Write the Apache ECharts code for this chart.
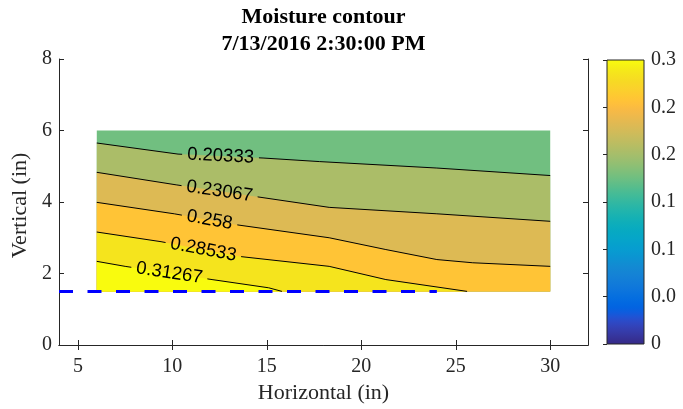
<!DOCTYPE html>
<html>
<head>
<meta charset="utf-8">
<title>Moisture contour</title>
<script src="https://cdn.jsdelivr.net/npm/echarts@6/dist/echarts.min.js"></script>
<style>
  html, body { margin: 0; padding: 0; background: #fff; }
  #chart { width: 683px; height: 409px; }
</style>
</head>
<body>
<div id="chart"></div>
<script>
// contour levels, the first one colours the band above the first line
var levels = [0.176, 0.20333, 0.23067, 0.258, 0.28533, 0.31267];
var contourLabels = ['0.20333', '0.23067', '0.258', '0.28533', '0.31267'];

// contour lines, [horizontal, vertical] in inches
var line1 = [[6, 5.65], [10.3, 5.34], [14.8, 5.23], [17.8, 5.13], [24, 4.95], [30, 4.74]];
var line2 = [[6, 4.83], [10.2, 4.48], [14.3, 4.16], [18.3, 3.85], [24, 3.67], [30, 3.46]];
var line3 = [[6, 3.99], [10.1, 3.67], [13.3, 3.37], [18.3, 3.0], [21.3, 2.67], [24, 2.39], [25.9, 2.3], [30, 2.2]];
var line4 = [[6, 3.16], [9.4, 2.89], [13.5, 2.48], [18.3, 2.2], [21.3, 1.83], [25.6, 1.5]];
var line5 = [[6, 2.34], [7.5, 2.2], [12.1, 1.83], [15.1, 1.6], [15.8, 1.5]];
var contours = [line1, line2, line3, line4, line5];
// where the inline labels sit (horizontal position)
var labelX = [12.55, 12.5, 11.97, 11.64, 9.84];

// measured area and the blue boundary line
var domainX = [6, 30];
var domainY = [1.5, 6];
var boundary = [[4, 1.5], [24, 1.5]];

var xTicks = [5, 10, 15, 20, 25, 30];
var cbTickLabels = ['0', '0.0', '0.1', '0.1', '0.2', '0.2', '0.3'];

// parula, 64 steps
var parula = [[0.208,0.166,0.529],[0.212,0.190,0.578],[0.212,0.214,0.627],[0.208,0.239,0.677],[0.196,0.264,0.728],[0.171,0.292,0.779],[0.125,0.324,0.830],[0.059,0.360,0.868],[0.012,0.388,0.882],[0.006,0.409,0.883],[0.017,0.427,0.879],[0.033,0.443,0.872],[0.050,0.459,0.864],[0.063,0.474,0.855],[0.072,0.489,0.847],[0.078,0.504,0.838],[0.079,0.520,0.831],[0.075,0.538,0.826],[0.064,0.557,0.824],[0.049,0.577,0.823],[0.034,0.597,0.820],[0.027,0.614,0.814],[0.024,0.629,0.804],[0.023,0.642,0.791],[0.023,0.653,0.777],[0.027,0.664,0.761],[0.038,0.674,0.744],[0.059,0.684,0.725],[0.084,0.693,0.706],[0.113,0.702,0.686],[0.145,0.710,0.665],[0.180,0.718,0.642],[0.218,0.725,0.619],[0.259,0.732,0.595],[0.302,0.738,0.571],[0.348,0.742,0.547],[0.395,0.746,0.524],[0.442,0.748,0.503],[0.487,0.749,0.484],[0.530,0.749,0.466],[0.571,0.749,0.449],[0.610,0.747,0.434],[0.647,0.746,0.419],[0.683,0.743,0.404],[0.718,0.741,0.390],[0.752,0.738,0.377],[0.786,0.736,0.363],[0.819,0.733,0.350],[0.851,0.730,0.336],[0.882,0.727,0.322],[0.914,0.726,0.306],[0.945,0.726,0.289],[0.974,0.731,0.267],[0.994,0.745,0.240],[0.999,0.765,0.216],[0.996,0.786,0.197],[0.988,0.807,0.179],[0.979,0.827,0.163],[0.970,0.848,0.147],[0.963,0.871,0.131],[0.959,0.895,0.113],[0.960,0.922,0.095],[0.966,0.951,0.076],[0.976,0.983,0.054]];
var parulaCss = parula.map(function (c) {
  return 'rgb(' + Math.round(c[0] * 255) + ',' + Math.round(c[1] * 255) + ',' + Math.round(c[2] * 255) + ')';
});

var axisColor = '#262626';
var serif = '"Liberation Serif", "Times New Roman", serif';
var labelFont = '18.5px "Liberation Sans", Arial, sans-serif';

var measureCtx = document.createElement('canvas').getContext('2d');
measureCtx.font = labelFont;

function interpY(line, x) {
  for (var k = 0; k < line.length - 1; k++) {
    if (x >= line[k][0] && x <= line[k + 1][0]) {
      var t = (x - line[k][0]) / (line[k + 1][0] - line[k][0]);
      return { y: line[k][1] + t * (line[k + 1][1] - line[k][1]), k: k };
    }
  }
  return { y: line[0][1], k: 0 };
}

// keep the part of a pixel polyline between x0 and x1
function clipX(pts, x0, x1) {
  var out = [];
  for (var k = 0; k < pts.length; k++) {
    var p = pts[k];
    if (k > 0) {
      var q = pts[k - 1];
      [x0, x1].forEach(function (xb) {
        if ((q[0] - xb) * (p[0] - xb) < 0) {
          var t = (xb - q[0]) / (p[0] - q[0]);
          out.push([xb, q[1] + t * (p[1] - q[1])]);
        }
      });
    }
    if (p[0] >= x0 && p[0] <= x1) out.push(p);
  }
  return out;
}

function renderBand(params, api) {
  var i = api.value(1);
  var pts;
  if (i === 0) {
    pts = [[domainX[0], domainY[1]], [domainX[1], domainY[1]], [domainX[1], domainY[0]], [domainX[0], domainY[0]]];
  } else {
    var line = contours[i - 1];
    var last = line[line.length - 1];
    pts = line.concat([[last[0], domainY[0]], [domainX[0], domainY[0]]]);
  }
  return {
    type: 'polygon',
    shape: { points: pts.map(function (p) { return api.coord(p); }) },
    style: { fill: api.visual('color') }
  };
}

function renderContour(params, api) {
  var i = api.value(0);
  var line = contours[i];
  var pts = line.map(function (p) { return api.coord(p); });
  var hit = interpY(line, labelX[i]);
  var cp = api.coord([labelX[i], hit.y]);
  var a = pts[hit.k], b = pts[hit.k + 1];
  var ang = Math.atan2(b[1] - a[1], b[0] - a[0]);
  var half = (measureCtx.measureText(contourLabels[i]).width / 2 + 5) * Math.cos(ang);
  var lineStyle = { stroke: '#000', lineWidth: 1, fill: 'none' };
  return {
    type: 'group',
    children: [
      { type: 'polyline', shape: { points: clipX(pts, -Infinity, cp[0] - half) }, style: lineStyle },
      { type: 'polyline', shape: { points: clipX(pts, cp[0] + half, Infinity) }, style: lineStyle },
      {
        type: 'text', x: cp[0], y: cp[1], rotation: -ang,
        style: { text: contourLabels[i], font: labelFont, fill: '#000', align: 'center', verticalAlign: 'middle' }
      }
    ]
  };
}

function renderColorbar(params, api) {
  var p0 = api.coord([0, 0.3]);
  var p1 = api.coord([1, 0]);
  var stops = parulaCss.map(function (c, k) { return { offset: k / (parulaCss.length - 1), color: c }; });
  return {
    type: 'rect',
    shape: { x: p0[0], y: p0[1], width: p1[0] - p0[0], height: p1[1] - p0[1] },
    style: { fill: new echarts.graphic.LinearGradient(0, 1, 0, 0, stops) }
  };
}

var chart = echarts.init(document.getElementById('chart'), null, { renderer: 'canvas' });

var tickLabel = { fontFamily: serif, fontSize: 20, color: axisColor };
var plainLine = { show: true, lineStyle: { color: axisColor, width: 1 } };

chart.setOption({
  animation: false,
  backgroundColor: '#fff',
  graphic: [
    { type: 'text', x: 323.5, y: 17.5, silent: true,
      style: { text: 'Moisture contour', font: 'bold 22px ' + serif, fill: '#000', align: 'center', verticalAlign: 'middle' } },
    { type: 'text', x: 323.5, y: 44, silent: true,
      style: { text: '7/13/2016 2:30:00 PM', font: 'bold 22px ' + serif, fill: '#000', align: 'center', verticalAlign: 'middle' } }
  ],
  grid: [
    { left: 59, top: 59, width: 529, height: 287 },
    { left: 607, top: 60, width: 37, height: 284, show: true, borderColor: axisColor, borderWidth: 1, z: 10 }
  ],
  visualMap: {
    type: 'continuous', show: false, min: 0, max: 0.3,
    dimension: 0, seriesIndex: 0,
    inRange: { color: parulaCss }
  },
  xAxis: [
    {
      gridIndex: 0, type: 'value', min: 4, max: 32, position: 'bottom',
      axisLine: plainLine,
      axisTick: { inside: true, length: 5, customValues: xTicks, lineStyle: { color: axisColor } },
      axisLabel: Object.assign({ customValues: xTicks, margin: 12 }, tickLabel),
      splitLine: { show: false },
      name: 'Horizontal (in)', nameLocation: 'middle', nameGap: 37,
      nameTextStyle: { fontFamily: serif, fontSize: 22, color: axisColor }
    },
    {
      gridIndex: 0, type: 'value', min: 4, max: 32, position: 'top',
      axisLine: plainLine,
      axisTick: { inside: true, length: 5, customValues: xTicks, lineStyle: { color: axisColor } },
      axisLabel: { show: false },
      splitLine: { show: false }
    },
    {
      gridIndex: 1, type: 'value', min: 0, max: 1, position: 'bottom',
      axisLine: { show: false }, axisTick: { show: false }, axisLabel: { show: false }, splitLine: { show: false }
    }
  ],
  yAxis: [
    {
      gridIndex: 0, type: 'value', min: 0, max: 8, interval: 2, position: 'left',
      axisLine: plainLine,
      axisTick: { inside: true, length: 5, lineStyle: { color: axisColor } },
      axisLabel: Object.assign({ margin: 7 }, tickLabel),
      splitLine: { show: false },
      name: 'Vertical (in)', nameLocation: 'middle', nameGap: 22, nameRotate: 90,
      nameTextStyle: { fontFamily: serif, fontSize: 22, color: axisColor, padding: [0, 7, 0, 0] }
    },
    {
      gridIndex: 0, type: 'value', min: 0, max: 8, interval: 2, position: 'right',
      axisLine: plainLine,
      axisTick: { inside: true, length: 5, lineStyle: { color: axisColor } },
      axisLabel: { show: false },
      splitLine: { show: false }
    },
    {
      gridIndex: 1, type: 'value', min: 0, max: 0.3, interval: 0.05, position: 'right',
      axisLine: { show: false },
      axisTick: { inside: true, length: 4, lineStyle: { color: axisColor } },
      axisLabel: Object.assign({
        margin: 7,
        formatter: function (v) { return cbTickLabels[Math.round(v / 0.05)]; }
      }, tickLabel),
      splitLine: { show: false }
    }
  ],
  series: [
    {
      name: 'bands', type: 'custom', xAxisIndex: 0, yAxisIndex: 0, z: 2, silent: true,
      data: levels.map(function (v, i) { return [v, i]; }),
      renderItem: renderBand
    },
    {
      name: 'contours', type: 'custom', xAxisIndex: 0, yAxisIndex: 0, z: 3, silent: true,
      data: contours.map(function (c, i) { return [i, i]; }),
      renderItem: renderContour
    },
    {
      name: 'boundary', type: 'line', xAxisIndex: 0, yAxisIndex: 0, z: 4, silent: true,
      data: boundary, symbol: 'none',
      lineStyle: { color: '#0000ff', width: 3, type: [14, 14.5] }
    },
    {
      name: 'colorbar', type: 'custom', xAxisIndex: 2, yAxisIndex: 2, z: 2, silent: true,
      data: [[0, 0]],
      renderItem: renderColorbar
    }
  ]
});
</script>
</body>
</html>
